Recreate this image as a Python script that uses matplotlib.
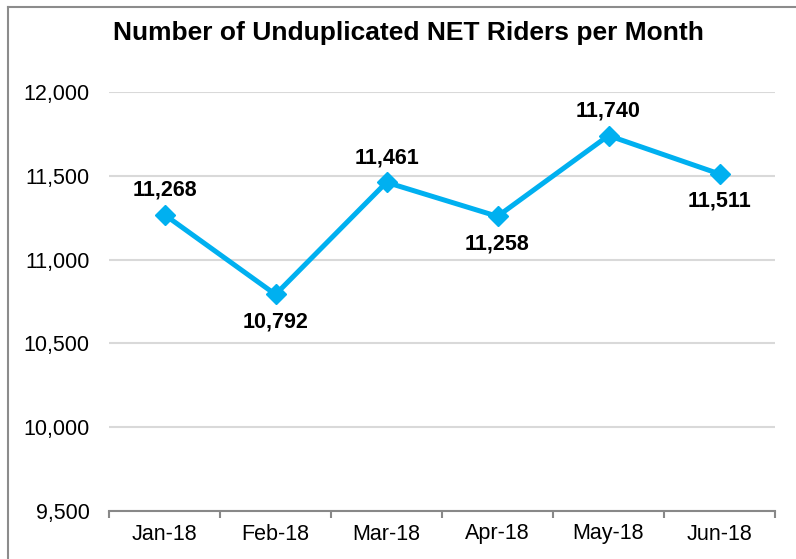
import matplotlib.pyplot as plt
from matplotlib.lines import Line2D

months = ['Jan-18', 'Feb-18', 'Mar-18', 'Apr-18', 'May-18', 'Jun-18']
riders = [11268, 10792, 11461, 11258, 11740, 11511]
label_above = [True, False, True, False, True, False]
y_ticks = [9500, 10000, 10500, 11000, 11500, 12000]

plt.rcParams['font.family'] = ['Liberation Sans', 'DejaVu Sans']

W, H = 796, 559
fig = plt.figure(figsize=(W / 100, H / 100), dpi=100)
ax = fig.add_axes([109 / W, 1 - 511 / H, 666 / W, 419 / H])

x = range(len(months))
ax.plot(x, riders, color='#00B0F0', lw=3.6, marker='D', markersize=10,
        solid_joinstyle='miter')

for i, v in enumerate(riders):
    off = 10 if label_above[i] else -12
    ax.annotate(f'{v:,}', (i, v), xytext=(0, off), textcoords='offset points',
                ha='center', va='bottom' if label_above[i] else 'top',
                fontsize=15.5, fontweight='bold')

ax.set_xlim(-0.5, 5.5)
ax.set_ylim(9500, 12000)
ax.set_yticks(y_ticks)
ax.set_yticklabels([f'{t:,}' for t in y_ticks])
ax.set_xticks(list(x))
ax.set_xticklabels(months)
ax.set_xticks([i - 0.5 for i in range(len(months) + 1)], minor=True)
ax.tick_params(axis='x', which='major', length=0, pad=9, labelsize=15.5)
ax.tick_params(axis='x', which='minor', length=5, color='#888888', width=1.5)
ax.tick_params(axis='y', length=0, pad=14, labelsize=15.5)

ax.grid(axis='y', color='#D9D9D9', lw=1.5)
ax.set_axisbelow(True)
for s in ['top', 'right', 'left']:
    ax.spines[s].set_visible(False)
ax.spines['bottom'].set_color('#888888')
ax.spines['bottom'].set_linewidth(1.5)

fig.text(408 / W, 1 - 33 / H, 'Number of Unduplicated NET Riders per Month',
         ha='center', va='center', fontsize=19, fontweight='bold')

fig.add_artist(Line2D([8 / W, 1], [1 - 7 / H, 1 - 7 / H], color='#8C8C8C', lw=1.5,
                      transform=fig.transFigure))
fig.add_artist(Line2D([8 / W, 8 / W], [0, 1 - 7 / H], color='#8C8C8C', lw=1.5,
                      transform=fig.transFigure))

fig.savefig('out.png', dpi=100)
